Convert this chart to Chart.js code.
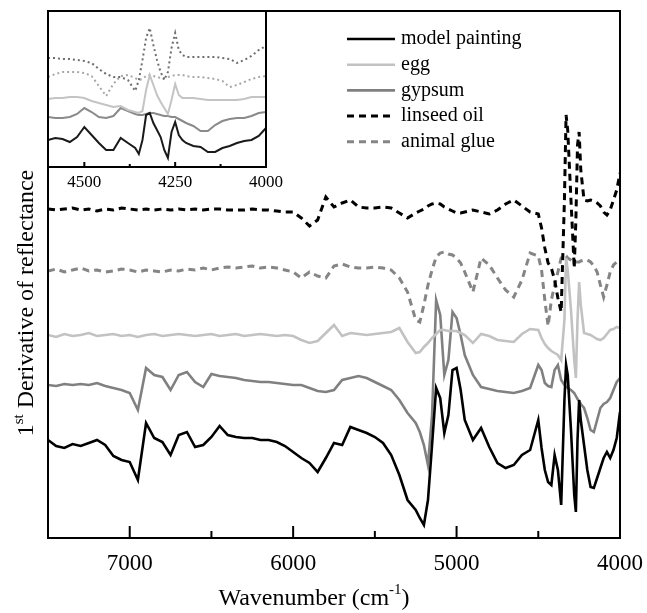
<!DOCTYPE html>
<html>
<head>
<meta charset="utf-8">
<script src="https://cdn.jsdelivr.net/npm/chart.js@4.4.1/dist/chart.umd.min.js"></script>
<style>
html, body { margin: 0; padding: 0; background: #fff; }
#wrap { position: relative; width: 647px; height: 613px; }
#wrap canvas { position: absolute; left: 0; top: 0; }
</style>
</head>
<body>
<div id="wrap">
<canvas id="mainchart" width="647" height="613"></canvas>
<canvas id="insetchart" width="647" height="613"></canvas>
</div>
<script>
// wavenumbers (cm-1) of the main plot
var wavenumbers = [7500,7450,7400,7350,7300,7250,7200,7150,7100,7050,7000,6950,6900,6850,6800,6750,6700,6650,6600,6550,6500,6450,6400,6350,6300,6250,6200,6150,6100,6050,6000,
  5950,5900,5850,5800,5750,5700,5650,5600,5550,5500,5450,5400,5350,5300,
  5250,5225,5200,5175,5150,5125,5100,5075,5050,5025,5000,4975,4950,
  4900,4850,4800,4750,4700,4650,4600,4550,4500,
  4480,4460,4440,4420,4400,4380,4360,4340,4330,4320,4300,4280,4270,4260,4250,4240,4220,4200,4180,4160,4140,4120,4100,4080,4060,4040,4020,4000];

// 1st derivative, arbitrary units (curves are offset)
var modelPainting = [98,92,90,94,92,95,98,93,82,78,76,58,115,100,96,83,103,106,91,93,101,112,103,101,100,100,98,98,96,92,86,
  80,75,66,80,95,93,111,108,105,101,95,83,63,38,
  28,20,13,38,93,150,140,105,123,168,170,148,118,
  98,110,91,75,70,73,83,88,118,
  90,68,56,53,83,68,33,138,173,163,108,43,26,98,138,118,93,68,51,50,60,70,80,86,80,88,100,126];
var egg = [203,201,204,202,203,205,202,203,204,202,203,201,203,204,202,203,204,203,202,203,204,202,203,204,202,203,204,203,202,203,202,
  198,195,197,205,213,202,205,204,203,204,205,206,210,196,
  185,186,191,195,200,204,208,208,207,207,207,205,203,
  195,204,202,198,197,196,204,209,208,
  200,194,190,187,185,183,178,218,280,268,228,178,160,218,256,233,205,204,203,201,199,198,200,204,208,209,211,210];
var gypsum = [153,152,154,153,154,153,155,152,150,148,145,128,170,163,161,148,163,166,156,151,164,162,161,160,158,157,156,156,155,154,153,
  153,150,147,146,148,158,160,162,160,156,152,148,138,125,
  115,106,93,73,123,238,223,163,178,226,220,203,183,
  163,151,149,147,146,145,147,150,173,
  168,155,152,151,168,173,158,153,151,150,148,145,142,139,137,134,130,120,108,106,118,130,134,136,140,148,156,160];
var linseedOil = [329,328,329,330,328,329,327,329,328,330,329,328,329,328,329,328,329,328,329,328,329,329,328,328,328,329,328,328,327,326,326,
  320,312,318,341,331,335,338,331,330,330,331,330,325,320,
  325,327,329,332,334,335,334,331,329,327,325,325,326,
  328,326,324,328,334,338,332,326,324,
  310,290,275,270,258,240,226,338,423,408,338,270,318,393,406,368,338,337,338,337,335,332,326,323,328,338,348,365];
var animalGlue = [267,269,266,268,270,267,268,266,267,269,268,266,268,267,266,268,267,269,268,270,268,270,271,270,271,272,270,271,270,268,266,
  260,266,262,260,272,274,271,270,270,271,270,268,260,246,
  218,216,233,253,268,281,285,286,284,283,280,275,266,
  246,280,273,260,248,241,258,285,282,
  268,238,212,238,253,266,280,283,282,280,278,276,276,276,276,277,278,278,276,272,266,253,241,253,266,273,276,276];

// inset (4600 - 4000 cm-1)
var insetWavenumbers = [4600,4580,4560,4540,4520,4500,4480,4460,4440,4420,4400,4380,4360,
  4350,4340,4330,4320,4310,4300,4290,4280,4270,4260,4250,4240,4230,
  4220,4200,4180,4160,4140,4120,4100,4080,4060,4040,4020,4000];
var insetModel = [27,29,28,25,30,40,32,24,17,17,29,24,19,13,27,52,54,44,37,30,17,9,35,45,32,27,24,21,20,15,15,19,21,24,26,27,31,39];
var insetEgg = [68,69,69,70,70,69,66,64,62,60,61,57,55,54,56,77,92,82,72,65,59,53,67,83,72,69,69,69,68,67,67,67,67,67,68,70,70,70];
var insetGypsum = [50,49,49,50,53,59,55,50,49,51,59,56,53,52,52,53,54,54,53,52,51,51,50,50,48,46,44,41,36,36,42,46,48,49,49,51,54,55];
var insetLinseed = [109,109,108,108,107,106,104,98,93,90,90,87,76,87,107,129,139,122,107,95,87,95,119,134,117,112,110,110,110,110,110,109,108,104,107,111,117,121];
var insetGlue = [90,93,95,95,95,94,91,81,71,83,91,92,89,87,88,91,92,91,90,89,89,90,91,92,92,92,91,90,90,89,88,86,80,82,85,88,90,91];

var seriesNames = ['model painting', 'egg', 'gypsum', 'linseed oil', 'animal glue'];
var majorTicks = [7000, 6000, 5000, 4000];
var minorTicks = [6500, 5500, 4500];
var insetMajorTicks = [4500, 4250, 4000];
var insetMinorTicks = [4375, 4125];

var serif = '"Liberation Serif", "Times New Roman", serif';

function pts(xs, ys) {
  return xs.map(function(x, i) { return {x: x, y: ys[i]}; });
}

function line(ctx, x1, y1, x2, y2) {
  ctx.beginPath(); ctx.moveTo(x1, y1); ctx.lineTo(x2, y2); ctx.stroke();
}

// frame + inward ticks
function frameTicks(major, minor, bigLen, smallLen) {
  return {
    id: 'frameTicks',
    beforeDraw: function(chart) {
      var a = chart.chartArea, ctx = chart.ctx;
      ctx.save();
      ctx.fillStyle = '#fff';
      ctx.fillRect(a.left, a.top, a.right - a.left, a.bottom - a.top);
      ctx.restore();
    },
    afterDraw: function(chart) {
      var a = chart.chartArea, ctx = chart.ctx, xs = chart.scales.x;
      ctx.save();
      ctx.strokeStyle = '#000';
      ctx.lineWidth = 2;
      ctx.strokeRect(a.left, a.top, a.right - a.left, a.bottom - a.top);
      major.forEach(function(v) { var p = xs.getPixelForValue(v); line(ctx, p, a.bottom, p, a.bottom - bigLen); });
      minor.forEach(function(v) { var p = xs.getPixelForValue(v); line(ctx, p, a.bottom, p, a.bottom - smallLen); });
      ctx.restore();
    }
  };
}

var legendAndTitles = {
  id: 'legendAndTitles',
  afterDraw: function(chart) {
    var ctx = chart.ctx, a = chart.chartArea;
    ctx.save();
    // legend
    ctx.font = '20px ' + serif;
    ctx.textBaseline = 'middle';
    chart.data.datasets.forEach(function(ds, i) {
      var y = 39 + i * 25.7;
      ctx.strokeStyle = ds.borderColor;
      ctx.lineWidth = ds.borderWidth;
      ctx.setLineDash(ds.borderDash || []);
      line(ctx, 347, y, 395, y);
      ctx.setLineDash([]);
      ctx.fillStyle = '#000';
      ctx.fillText(ds.label, 401, y);
    });
    // x title with superscript
    ctx.textBaseline = 'alphabetic';
    ctx.font = '24px ' + serif;
    var t1 = 'Wavenumber (cm', t3 = ')';
    var w1 = ctx.measureText(t1).width, w3 = ctx.measureText(t3).width;
    ctx.font = '15px ' + serif;
    var w2 = ctx.measureText('-1').width;
    var x0 = (a.left + a.right) / 2 - 20 - (w1 + w2 + w3) / 2;
    ctx.font = '24px ' + serif;
    ctx.fillText(t1, x0, 605);
    ctx.fillText(t3, x0 + w1 + w2, 605);
    ctx.font = '15px ' + serif;
    ctx.fillText('-1', x0 + w1, 594);
    // y title with superscript
    ctx.translate(33, 303);
    ctx.rotate(-Math.PI / 2);
    ctx.font = '24px ' + serif;
    var y1 = '1', y3 = ' Derivative of reflectance';
    var v1 = ctx.measureText(y1).width, v3 = ctx.measureText(y3).width;
    ctx.font = '15px ' + serif;
    var v2 = ctx.measureText('st').width;
    var s0 = -(v1 + v2 + v3) / 2;
    ctx.font = '24px ' + serif;
    ctx.fillText(y1, s0, 0);
    ctx.fillText(y3, s0 + v1 + v2, 0);
    ctx.font = '15px ' + serif;
    ctx.fillText('st', s0 + v1, -10);
    ctx.restore();
  }
};

// keep the tick labels from pushing the plot area in
function noLabelPadding(height) {
  return function(s) {
    s.height = height;
    s.paddingLeft = 0;
    s.paddingRight = 0;
  };
}

var colors = ['#000000', '#c2c2c2', '#808080', '#000000', '#858585'];
var dashes = [[], [], [], [7, 5], [7, 5]];
var widths = [2.6, 2.6, 2.6, 3, 3];
var mainSeries = [modelPainting, egg, gypsum, linseedOil, animalGlue];

new Chart(document.getElementById('mainchart').getContext('2d'), {
  type: 'line',
  data: {
    datasets: mainSeries.map(function(s, i) {
      return {
        label: seriesNames[i],
        data: pts(wavenumbers, s),
        borderColor: colors[i],
        borderWidth: widths[i],
        borderDash: dashes[i],
        pointRadius: 0,
        tension: 0,
        fill: false
      };
    })
  },
  options: {
    responsive: false,
    animation: false,
    layout: { padding: { left: 48, right: 27, top: 11, bottom: 0 } },
    plugins: { legend: { display: false }, tooltip: { enabled: false } },
    scales: {
      x: {
        type: 'linear', reverse: true, min: 4000, max: 7500,
        afterBuildTicks: function(s) { s.ticks = majorTicks.map(function(v) { return {value: v}; }); },
        afterFit: noLabelPadding(75),
        grid: { display: false, drawTicks: false },
        border: { display: false },
        ticks: { color: '#000', font: { family: serif, size: 23 }, padding: 12, maxRotation: 0, autoSkip: false,
          callback: function(v) { return String(v); } }
      },
      y: { display: false, min: 0, max: 527 }
    }
  },
  plugins: [frameTicks(majorTicks, minorTicks, 12, 7), legendAndTitles]
});

var insetColors = ['#1a1a1a', '#c4c4c4', '#8a8a8a', '#6e6e6e', '#a8a8a8'];
var insetDashes = [[], [], [], [2, 3], [2, 3]];
var insetSeries = [insetModel, insetEgg, insetGypsum, insetLinseed, insetGlue];

new Chart(document.getElementById('insetchart').getContext('2d'), {
  type: 'line',
  data: {
    datasets: insetSeries.map(function(s, i) {
      return {
        label: seriesNames[i],
        data: pts(insetWavenumbers, s),
        borderColor: insetColors[i],
        borderWidth: 2,
        borderDash: insetDashes[i],
        pointRadius: 0,
        tension: 0,
        fill: false
      };
    })
  },
  options: {
    responsive: false,
    animation: false,
    layout: { padding: { left: 48, right: 381, top: 11, bottom: 416 } },
    plugins: { legend: { display: false }, tooltip: { enabled: false } },
    scales: {
      x: {
        type: 'linear', reverse: true, min: 4000, max: 4600,
        afterBuildTicks: function(s) { s.ticks = insetMajorTicks.map(function(v) { return {value: v}; }); },
        afterFit: noLabelPadding(30),
        grid: { display: false, drawTicks: false },
        border: { display: false },
        ticks: { color: '#000', font: { family: serif, size: 17 }, padding: 5, maxRotation: 0, autoSkip: false,
          callback: function(v) { return String(v); } }
      },
      y: { display: false, min: 0, max: 156 }
    }
  },
  plugins: [frameTicks(insetMajorTicks, insetMinorTicks, 5, 3)]
});
</script>
</body>
</html>
